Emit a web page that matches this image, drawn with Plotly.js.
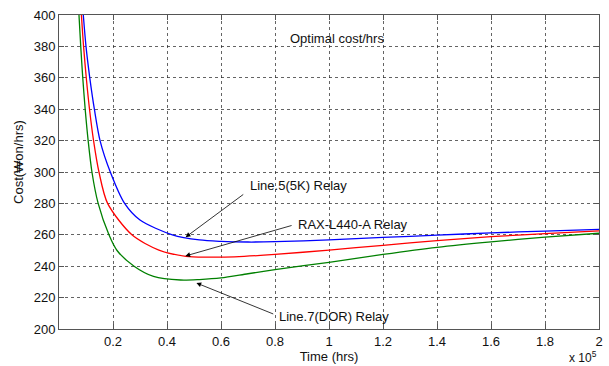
<!DOCTYPE html>
<html>
<head>
<meta charset="utf-8">
<script src="https://cdn.plot.ly/plotly-3.0.1.min.js"></script>
<style>html,body{margin:0;padding:0;background:#fff;}#chart{width:609px;height:366px;}</style>
</head>
<body>
<div id="chart"></div>
<script>
// Time in units of 1e5 hrs
const blueX = [0.09,0.1,0.114,0.131,0.152,0.19,0.243,0.30,0.42,0.52,0.6,0.7,0.8,1.0,1.2,1.4,1.6,1.8,2.0];
const blueY = [400,380,360,340,320,300,280,269.4,260,256.7,255.8,255.4,255.6,256.8,258.3,259.8,261.2,262.4,263.5];
const redX = [0.083,0.091,0.101,0.113,0.128,0.148,0.18,0.27,0.37,0.47,0.55,0.65,0.8,1.0,1.2,1.4,1.6,1.8,2.0];
const redY = [400,380,360,340,320,300,280,260,250.3,246.3,245.8,246,247.5,250.3,253.3,256.3,258.8,260.8,262.5];
const greenX = [0.074,0.0805,0.088,0.097,0.108,0.122,0.145,0.185,0.215,0.278,0.35,0.45,0.52,0.6,0.7,0.8,1.0,1.2,1.4,1.6,1.8,2.0];
const greenY = [400,380,360,340,320,300,280,260,250,240,233.5,231.2,231.5,232.5,235.2,237.8,242.5,247.5,252,255.5,258.5,261];
const xTicks = [0.2,0.4,0.6,0.8,1,1.2,1.4,1.6,1.8,2];
const xTickText = ['0.2','0.4','0.6','0.8','1','1.2','1.4','1.6','1.8','2'];
const seriesNames = ['Line.5(5K) Relay','RAX-L440-A Relay','Line.7(DOR) Relay'];

const FONT = 'Liberation Sans, Arial, sans-serif';
const mk = (x,y,c,n)=>({x:x,y:y,type:'scatter',mode:'lines',name:n,
  line:{color:c,width:1.3,shape:'spline',smoothing:0.8},hoverinfo:'skip'});

const data = [
  mk(blueX,blueY,'#0000ff',seriesNames[0]),
  mk(redX,redY,'#ff0000',seriesNames[1]),
  mk(greenX,greenY,'#008000',seriesNames[2])
];

const arrow = (hx,hy,tx,ty)=>({x:hx,y:hy,ax:tx,ay:ty,xref:'x',yref:'y',axref:'x',ayref:'y',
  text:'',showarrow:true,arrowhead:2,arrowsize:1.2,arrowwidth:0.8,arrowcolor:'#000'});
const label = (x,y,t)=>({x:x,y:y,xref:'x',yref:'y',text:t,showarrow:false,xanchor:'left',yanchor:'middle',
  font:{family:FONT,size:13,color:'#111'}});

const layout = {
  width:609,height:366,
  margin:{l:59,r:10,t:15,b:37},
  paper_bgcolor:'#fff',plot_bgcolor:'#fff',
  showlegend:false,
  font:{family:FONT,size:13,color:'#111'},
  xaxis:{range:[0,2],tickvals:xTicks,ticktext:xTickText,
    showgrid:true,gridcolor:'#222',griddash:'3px,3px',gridwidth:0.7,
    showline:true,mirror:'ticks',linecolor:'#555',linewidth:1,
    ticks:'inside',ticklen:5,tickcolor:'#555',zeroline:false,
    title:{text:'Time (hrs)',font:{family:FONT,size:13,color:'#111'},standoff:0},
    tickfont:{family:FONT,size:13,color:'#111'}},
  yaxis:{range:[200,400],dtick:20,tick0:200,
    showgrid:true,gridcolor:'#222',griddash:'3px,3px',gridwidth:0.7,
    showline:true,mirror:'ticks',linecolor:'#555',linewidth:1,
    ticks:'inside',ticklen:5,tickcolor:'#555',zeroline:false,
    title:{text:''},
    tickfont:{family:FONT,size:13,color:'#111'}},
  annotations:[
    {x:-0.0746,y:0.531,xref:'paper',yref:'paper',text:'Cost(₩on/hrs)',textangle:-90,showarrow:false,
      xanchor:'center',yanchor:'middle',font:{family:FONT,size:13,color:'#111'}},
    {x:1.03,y:385,xref:'x',yref:'y',text:'Optimal cost/hrs',showarrow:false,
      font:{family:FONT,size:13,color:'#111'},xanchor:'center',yanchor:'middle'},
    arrow(0.469,258.5,0.688,286.4),
    arrow(0.468,246.5,0.867,266.2),
    arrow(0.509,229.3,0.799,209.2),
    label(0.699,291.2,seriesNames[0]),
    label(0.879,266.8,seriesNames[1]),
    label(0.806,208.0,seriesNames[2]),
    {x:1,y:-0.09,xref:'paper',yref:'paper',text:'x 10<sup>5</sup>',showarrow:false,
      xanchor:'right',yanchor:'middle',font:{family:FONT,size:12,color:'#111'}}
  ]
};

Plotly.newPlot('chart',data,layout,{staticPlot:true,displayModeBar:false});
</script>
</body>
</html>
